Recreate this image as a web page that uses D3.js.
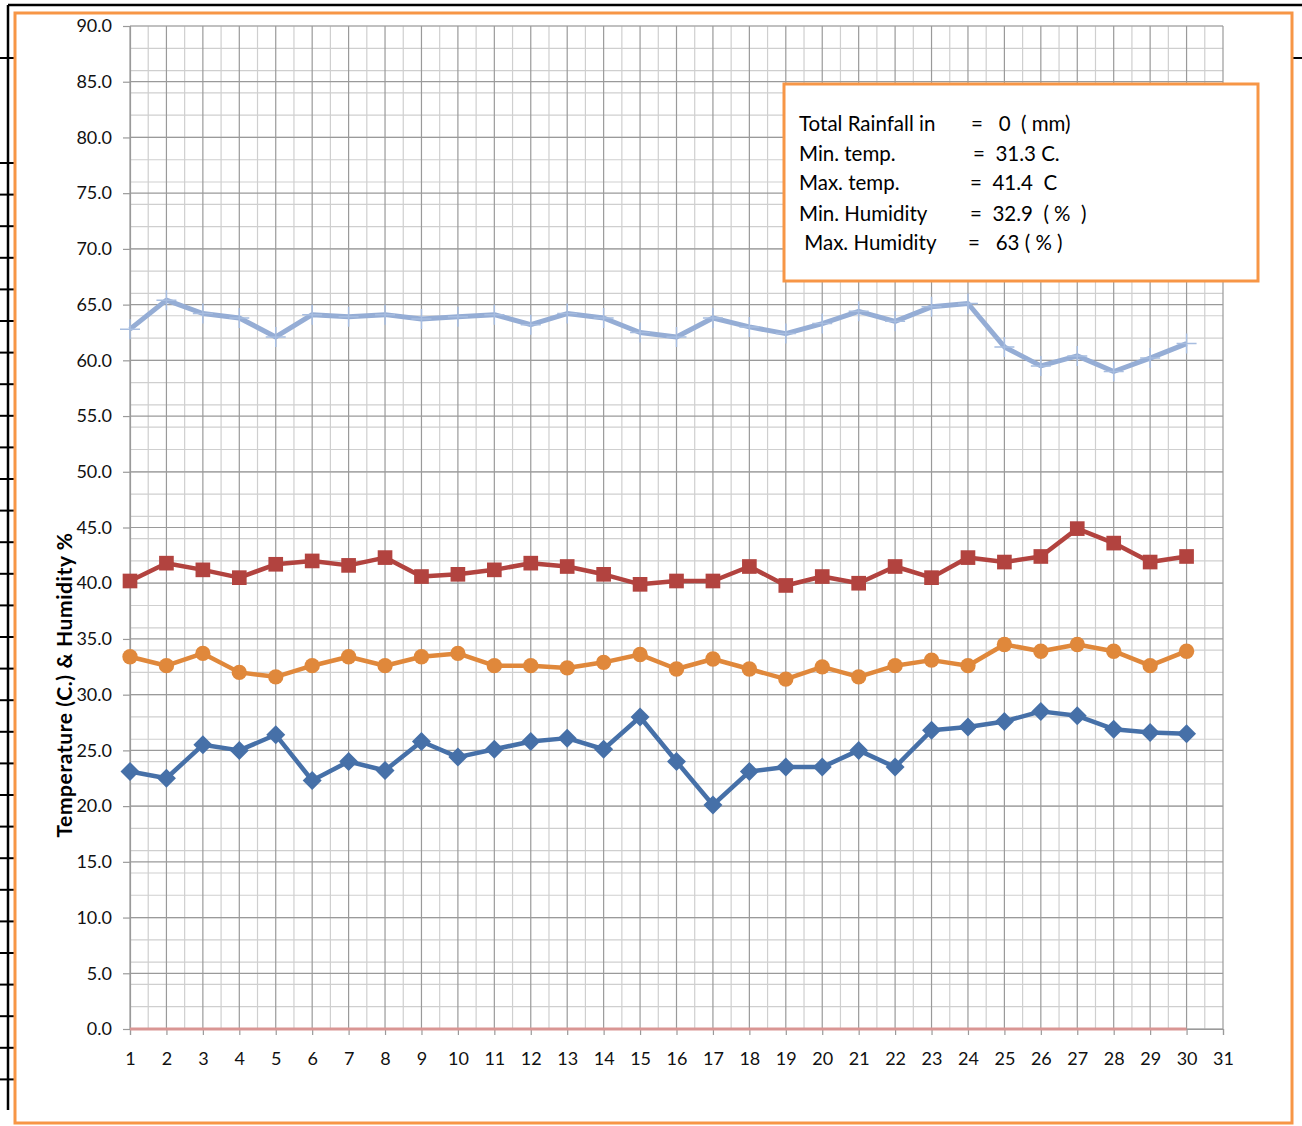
<!DOCTYPE html>
<html>
<head>
<meta charset="utf-8">
<script src="https://cdn.jsdelivr.net/npm/d3@7"></script>
<style>
  body { margin: 0; background: #fff; }
  svg { display: block; font-family: Lato, "Open Sans", sans-serif; }
</style>
</head>
<body>
<div id="chart"></div>
<script>

// days of the month
const days = d3.range(1, 31);

// series
const maxHumidity = [62.8, 65.4, 64.2, 63.8, 62.1, 64.1, 63.9, 64.1, 63.7, 63.9,
                     64.1, 63.2, 64.2, 63.8, 62.5, 62.1, 63.8, 63.0, 62.4, 63.3,
                     64.4, 63.5, 64.8, 65.1, 61.2, 59.5, 60.4, 59.0, 60.2, 61.5];
const maxTemp = [40.2, 41.8, 41.2, 40.5, 41.7, 42.0, 41.6, 42.3, 40.6, 40.8,
                 41.2, 41.8, 41.5, 40.8, 39.9, 40.2, 40.2, 41.5, 39.8, 40.6,
                 40.0, 41.5, 40.5, 42.3, 41.9, 42.4, 44.9, 43.6, 41.9, 42.4];
const minHumidity = [33.4, 32.6, 33.7, 32.0, 31.6, 32.6, 33.4, 32.6, 33.4, 33.7,
                     32.6, 32.6, 32.4, 32.9, 33.6, 32.3, 33.2, 32.3, 31.4, 32.5,
                     31.6, 32.6, 33.1, 32.6, 34.5, 33.9, 34.5, 33.9, 32.6, 33.9];
const minTemp = [23.1, 22.5, 25.5, 25.0, 26.4, 22.3, 24.0, 23.2, 25.8, 24.4,
                 25.1, 25.8, 26.1, 25.1, 28.0, 24.0, 20.1, 23.1, 23.5, 23.5,
                 25.0, 23.5, 26.8, 27.1, 27.6, 28.5, 28.1, 26.9, 26.6, 26.5];
const rainfall = days.map(() => 0);

const xTicks = d3.range(1, 32);
const yTicks = d3.range(0, 91, 5);
const yMinor = d3.range(0, 91, 2);

const legendLabels = ["Total Rainfall in", "Min. temp.", "Max. temp.", "Min. Humidity", " Max. Humidity"];
const legendValues = ["=   0  ( mm)", "=  31.3 C.", "=  41.4  C", "=  32.9  ( %  )", "=   63 ( % )"];

const width = 1302, height = 1126;

const svg = d3.select("#chart").append("svg")
  .attr("width", width)
  .attr("height", height);

// spreadsheet cell borders behind the chart
const sheet = svg.append("g");
sheet.append("line").attr("x1", 8).attr("x2", width).attr("y1", 5).attr("y2", 5)
  .attr("stroke", "#000").attr("stroke-width", 2.5);
sheet.append("line").attr("x1", 8).attr("x2", 8).attr("y1", 5).attr("y2", 1110)
  .attr("stroke", "#000").attr("stroke-width", 2.5);
const rowLines = [58].concat(d3.range(163, 1111, 31.6));
sheet.selectAll(".row").data(rowLines).enter().append("line")
  .attr("x1", 0).attr("x2", 14).attr("y1", d => d).attr("y2", d => d)
  .attr("stroke", "#000").attr("stroke-width", 2);
sheet.append("line").attr("x1", 1292).attr("x2", width).attr("y1", 58).attr("y2", 58)
  .attr("stroke", "#000").attr("stroke-width", 2);

// chart frame
svg.append("rect")
  .attr("x", 15).attr("y", 13).attr("width", 1277).attr("height", 1110)
  .attr("fill", "#fff").attr("stroke", "#f79646").attr("stroke-width", 3);

const x = d3.scaleLinear().domain([1, 31]).range([130, 1223]);
const y = d3.scaleLinear().domain([0, 90]).range([1029, 26]);

// grid
const grid = svg.append("g");
grid.selectAll(".vminor").data(d3.range(1.5, 31, 1)).enter().append("line")
  .attr("x1", d => x(d)).attr("x2", d => x(d)).attr("y1", y(90)).attr("y2", y(0))
  .attr("stroke", "#cfcfcf").attr("stroke-width", 1.2);
grid.selectAll(".hminor").data(yMinor).enter().append("line")
  .attr("x1", x(1)).attr("x2", x(31)).attr("y1", d => y(d)).attr("y2", d => y(d))
  .attr("stroke", "#cfcfcf").attr("stroke-width", 1.2);
grid.selectAll(".vmajor").data(xTicks).enter().append("line")
  .attr("x1", d => x(d)).attr("x2", d => x(d)).attr("y1", y(90)).attr("y2", y(0))
  .attr("stroke", "#9a9a9a").attr("stroke-width", 1.2);
grid.selectAll(".hmajor").data(yTicks).enter().append("line")
  .attr("x1", x(1)).attr("x2", x(31)).attr("y1", d => y(d)).attr("y2", d => y(d))
  .attr("stroke", "#9a9a9a").attr("stroke-width", 1.2);

// axes
const yAxis = svg.append("g")
  .attr("transform", "translate(" + x(1) + ",0)")
  .call(d3.axisLeft(y).tickValues(yTicks).tickFormat(d3.format(".1f")).tickSize(7).tickPadding(11));
const xAxis = svg.append("g")
  .attr("transform", "translate(0," + y(0) + ")")
  .call(d3.axisBottom(x).tickValues(xTicks).tickFormat(d3.format("d")).tickSize(6).tickPadding(17));
[yAxis, xAxis].forEach(a => {
  a.select(".domain").attr("stroke", "#9a9a9a").attr("stroke-width", 1.2);
  a.selectAll(".tick line").attr("stroke", "#9a9a9a").attr("stroke-width", 1.2);
  a.selectAll("text").attr("fill", "#111").style("font-size", "18px")
    .style("font-family", "Lato, 'Open Sans', sans-serif");
});

svg.append("text")
  .attr("transform", "translate(72,685) rotate(-90)")
  .attr("text-anchor", "middle")
  .style("font-size", "21px").style("font-weight", "bold").style("letter-spacing", "0.6px")
  .text("Temperature (C.) & Humidity %");

// series
const line = d3.line().x((d, i) => x(days[i])).y(d => y(d));

function drawSeries(values, color, symbol, size) {
  const g = svg.append("g");
  g.append("path").datum(values)
    .attr("d", line).attr("fill", "none")
    .attr("stroke", color).attr("stroke-width", 4.5).attr("stroke-linejoin", "round");
  if (symbol) {
    g.selectAll("path.m").data(values).enter().append("path")
      .attr("class", "m")
      .attr("transform", (d, i) => "translate(" + x(days[i]) + "," + y(d) + ")")
      .attr("d", d3.symbol().type(symbol).size(size))
      .attr("fill", color);
  }
  return g;
}

drawSeries(rainfall, "#d99694", null, 0).select("path").attr("stroke-width", 3);

const hum = drawSeries(maxHumidity, "#95add5", null, 0);
hum.select("path").attr("stroke-width", 5);
hum.selectAll("path.m").data(maxHumidity).enter().append("path")
  .attr("transform", (d, i) => "translate(" + x(days[i]) + "," + y(d) + ")")
  .attr("d", "M0,-10V10M-10,0H10")
  .attr("stroke", "#a7bde0").attr("stroke-width", 1.5).attr("fill", "none");

drawSeries(maxTemp, "#b2433f", d3.symbolSquare, 215);
drawSeries(minHumidity, "#e0883b", d3.symbolCircle, 185);
drawSeries(minTemp, "#4670a8", d3.symbolDiamond2, 230);

// info box
const box = svg.append("g");
box.append("rect")
  .attr("x", 784).attr("y", 84).attr("width", 474).attr("height", 197)
  .attr("fill", "#fff").attr("stroke", "#f79646").attr("stroke-width", 3);
const rowY = [131, 161, 190, 221, 250];
const eqX = [971, 973, 970, 970, 968];
box.selectAll(".lab").data(legendLabels).enter().append("text")
  .attr("x", 799).attr("y", (d, i) => rowY[i])
  .attr("xml:space", "preserve")
  .style("font-size", "20.5px").style("white-space", "pre")
  .text(d => d);
box.selectAll(".val").data(legendValues).enter().append("text")
  .attr("x", (d, i) => eqX[i]).attr("y", (d, i) => rowY[i])
  .attr("xml:space", "preserve")
  .style("font-size", "20.5px").style("white-space", "pre")
  .text(d => d);

</script>
</body>
</html>
